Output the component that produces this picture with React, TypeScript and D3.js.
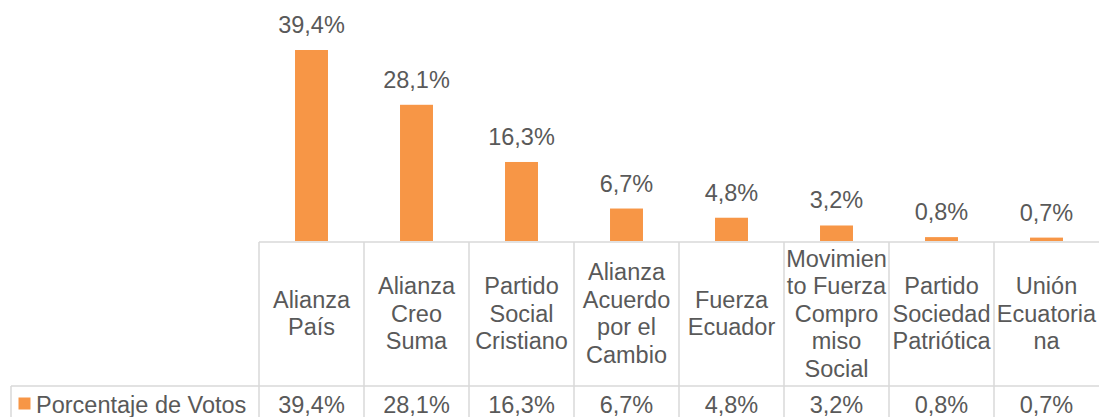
import * as d3 from "d3";
import React, { useEffect } from "react";

const categories = [
  "Alianza País",
  "Alianza Creo Suma",
  "Partido Social Cristiano",
  "Alianza Acuerdo por el Cambio",
  "Fuerza Ecuador",
  "Movimiento Fuerza Compromiso Social",
  "Partido Sociedad Patriótica",
  "Unión Ecuatoriana",
];

// wrapped lines as they appear in the table header cells
const categoryLines = [
  ["Alianza", "País"],
  ["Alianza", "Creo", "Suma"],
  ["Partido", "Social", "Cristiano"],
  ["Alianza", "Acuerdo", "por el", "Cambio"],
  ["Fuerza", "Ecuador"],
  ["Movimien", "to Fuerza", "Compro", "miso", "Social"],
  ["Partido", "Sociedad", "Patriótica"],
  ["Unión", "Ecuatoria", "na"],
];

const votes = [39.4, 28.1, 16.3, 6.7, 4.8, 3.2, 0.8, 0.7];

const seriesName = "Porcentaje de Votos";

const W = 1099;
const H = 417;
const orange = "#F79646";
const textColor = "#595959";
const gridColor = "#D9D9D9";
const fontSize = 23.5;
const lineH = 27.5;

const locale = d3.formatLocale({ decimal: ",", thousands: ".", grouping: [3], currency: ["$", ""] });
const fmt = (v: number) => locale.format(".1f")(v) + "%";

const App = () => {
  useEffect(() => {
    document.body.style.margin = "0";
  }, []);

  const left = 259;
  const right = 1099;
  const baseY = 241;
  const tableTop = 242;
  const rowY = 386;

  const cellScale = d3.scaleBand().domain(categories).range([left, right]).padding(0);
  const barScale = d3
    .scaleBand()
    .domain(categories)
    .range([left, right])
    .paddingInner(0.686)
    .paddingOuter(0.343);
  const yScale = d3.scaleLinear().domain([0, 40]).range([baseY, 47.1]);

  const headerMid = (tableTop + rowY) / 2;

  return (
    <svg width={W} height={H} style={{ display: "block", fontFamily: "'Liberation Sans', Arial, sans-serif" }}>
      <rect width={W} height={H} fill="#fff" />
      {/* bars */}
      {votes.map((v, i) => (
        <rect
          key={"b" + i}
          x={barScale(categories[i])}
          y={yScale(v)}
          width={barScale.bandwidth()}
          height={baseY - yScale(v)}
          fill={orange}
        />
      ))}
      {/* data labels */}
      {votes.map((v, i) => (
        <text
          key={"l" + i}
          x={(barScale(categories[i]) as number) + barScale.bandwidth() / 2}
          y={yScale(v) - 17}
          textAnchor="middle"
          fontSize={fontSize}
          fill={textColor}
        >
          {fmt(v)}
        </text>
      ))}
      {/* data table grid */}
      <g stroke={gridColor} strokeWidth={1.5} fill="none">
        <line x1={left} x2={W + 2} y1={tableTop} y2={tableTop} />
        <line x1={11} x2={W + 2} y1={rowY} y2={rowY} />
        <line x1={11} x2={11} y1={rowY} y2={H + 2} />
        {categories.map((c, i) => (
          <line
            key={"v" + i}
            x1={cellScale(c)}
            x2={cellScale(c)}
            y1={tableTop}
            y2={H + 2}
          />
        ))}
      </g>
      {/* category headers */}
      {categoryLines.map((lines, i) => {
        const cx = (cellScale(categories[i]) as number) + cellScale.bandwidth() / 2;
        const n = lines.length;
        return (
          <text key={"c" + i} textAnchor="middle" fontSize={fontSize} fill={textColor}>
            {lines.map((ln, j) => (
              <tspan key={j} x={cx} y={headerMid + (j - (n - 1) / 2) * lineH + 7.5}>
                {ln}
              </tspan>
            ))}
          </text>
        );
      })}
      {/* value row */}
      {votes.map((v, i) => (
        <text
          key={"r" + i}
          x={(cellScale(categories[i]) as number) + cellScale.bandwidth() / 2}
          y={412.5}
          textAnchor="middle"
          fontSize={fontSize}
          fill={textColor}
        >
          {fmt(v)}
        </text>
      ))}
      {/* legend key */}
      <rect x={18.5} y={397.5} width={12} height={12} fill={orange} />
      <text x={36} y={412.5} fontSize={fontSize} fill={textColor}>
        {seriesName}
      </text>
    </svg>
  );
};

export default App;
